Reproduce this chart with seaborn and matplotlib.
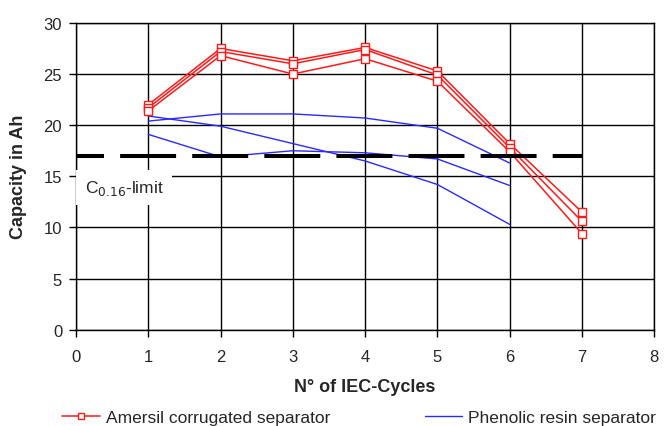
import matplotlib
matplotlib.use("Agg")
import matplotlib.pyplot as plt
import seaborn as sns
import pandas as pd
from matplotlib.lines import Line2D

cycles = [1, 2, 3, 4, 5, 6, 7]
amersil_1 = [22.0, 27.5, 26.3, 27.6, 25.3, 18.2, 11.5]
amersil_2 = [21.7, 27.2, 26.0, 27.4, 24.9, 17.8, 10.6]
amersil_3 = [21.4, 26.8, 25.0, 26.5, 24.3, 17.4, 9.4]

phen_cycles = [1, 2, 3, 4, 5, 6]
phenolic_1 = [20.4, 21.1, 21.1, 20.7, 19.7, 16.3]
phenolic_2 = [20.9, 19.9, 18.2, 16.5, 14.2, 10.3]
phenolic_3 = [19.1, 16.9, 17.5, 17.3, 16.7, 14.1]

limit_value = 17.0
limit_label = "C$_{0.16}$-limit"
x_ticks = list(range(0, 9))
y_ticks = list(range(0, 31, 5))

rows = []
for i, s in enumerate([amersil_1, amersil_2, amersil_3]):
    for c, v in zip(cycles, s):
        rows.append(dict(cycle=c, cap=v, sep="Amersil corrugated separator", unit=f"a{i}"))
for i, s in enumerate([phenolic_1, phenolic_2, phenolic_3]):
    for c, v in zip(phen_cycles, s):
        rows.append(dict(cycle=c, cap=v, sep="Phenolic resin separator", unit=f"p{i}"))
df = pd.DataFrame(rows)

sns.set_theme(style="white")
plt.rcParams['font.family'] = ['Liberation Sans', 'DejaVu Sans']

fig = plt.figure(figsize=(6.71, 4.27), dpi=100)
ax = fig.add_axes([0.1133, 0.2255, 0.8617, 0.7185])

red = "#ff1a1a"
blue = "#2a2aff"

ph = df[df.sep == "Phenolic resin separator"]
sns.lineplot(data=ph, x="cycle", y="cap", units="unit", estimator=None,
             color=blue, lw=1.0, ax=ax, legend=False, zorder=3)
am = df[df.sep == "Amersil corrugated separator"]
sns.lineplot(data=am, x="cycle", y="cap", units="unit", estimator=None,
             color=red, lw=1.1, marker="s", markersize=5.5, markerfacecolor="white",
             markeredgecolor=red, markeredgewidth=1.0, ax=ax, legend=False, zorder=4)

# limit line (dashes centred on integer cycles)
lw_lim = 2.9
on, off = 13.9, 4.0
ax.plot([0, 7], [limit_value, limit_value], color="black", lw=lw_lim,
        linestyle=(on / 2, (on, off)), solid_capstyle="butt", dash_capstyle="butt",
        zorder=5)

ax.text(0.12, 13.9, limit_label, fontsize=12.5, ha="left", va="center", zorder=6,
        bbox=dict(facecolor="white", edgecolor="none", pad=6))

ax.set_xlim(0, 8)
ax.set_ylim(0, 30)
ax.set_xticks(x_ticks)
ax.set_yticks(y_ticks)
ax.grid(True, color="black", lw=1.0, zorder=0)
ax.set_axisbelow(True)
for s in ax.spines.values():
    s.set_color("black")
    s.set_linewidth(1.0)
ax.tick_params(axis="both", which="both", direction="out", length=5, width=1,
               color="black", labelsize=12, left=True, bottom=True)
ax.tick_params(axis="x", pad=9)
ax.tick_params(axis="y", pad=5)
ax.set_xlabel("N° of IEC-Cycles", fontsize=13, fontweight="bold", labelpad=10)
ax.set_ylabel("Capacity in Ah", fontsize=13, fontweight="bold", labelpad=12)

handles = [
    Line2D([], [], color=red, lw=1.1, marker="s", markersize=5, markerfacecolor="white",
           markeredgecolor=red),
    Line2D([], [], color=blue, lw=1.0),
]
fig.legend(handles, ["Amersil corrugated separator", "Phenolic resin separator"],
           loc="center left", bbox_to_anchor=(0.093, 0.021), ncol=2, frameon=False,
           fontsize=12.5, handlelength=2.15, handletextpad=0.35, columnspacing=5.45,
           borderpad=0, borderaxespad=0)

fig.savefig("out.png", dpi=100)
